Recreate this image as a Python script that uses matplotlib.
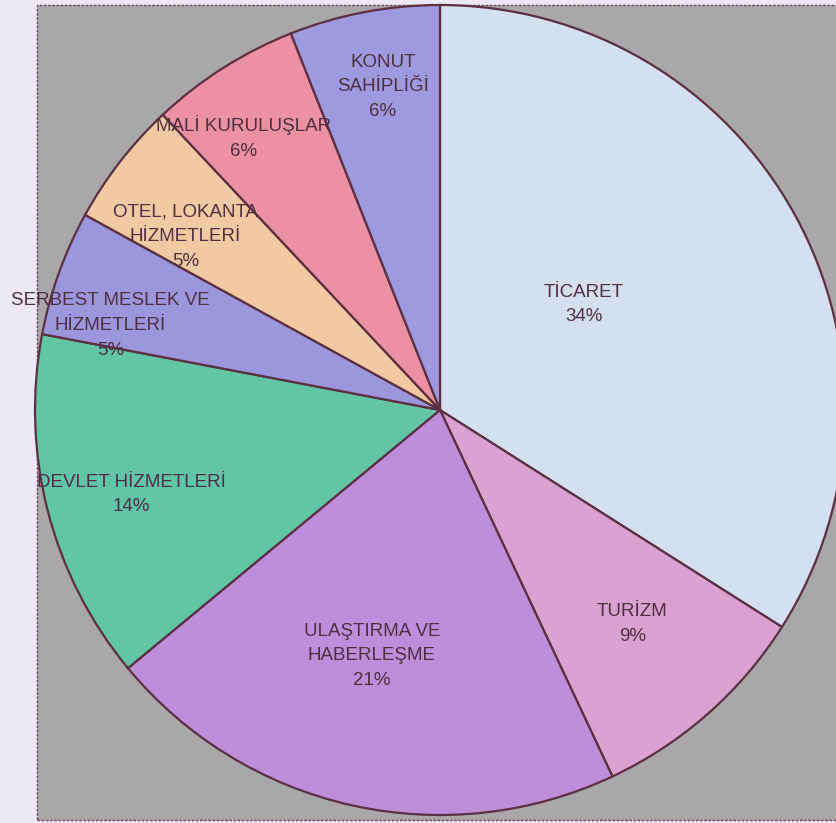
import numpy as np
import matplotlib as mpl
mpl.use("Agg")
import matplotlib.pyplot as plt
from matplotlib.patches import Rectangle

# --- data ---------------------------------------------------------------------
sectors = ["TİCARET", "TURİZM", "ULAŞTIRMA VE\nHABERLEŞME", "DEVLET HİZMETLERİ",
           "SERBEST MESLEK VE\nHİZMETLERİ", "OTEL, LOKANTA\nHİZMETLERİ",
           "MALİ KURULUŞLAR", "KONUT\nSAHİPLİĞİ"]
shares = [34, 9, 21, 14, 5, 5, 6, 6]
colors = ["#d4e0ef", "#d9a2d2", "#bf8edb", "#62c5a6",
          "#9c97dc", "#f1c9a2", "#ec91a4", "#9f9ae0"]

# label placement: fraction of radius and angular nudge (deg) per wedge
label_r = [0.44, 0.71, 0.63, 0.79, 0.84, 0.76, 0.83, 0.81]
label_dth = [7.5, 0.6, -2.9, 0.9, 5.4, 3.6, 3.4, -0.8]

plt.rcParams.update({
    "font.family": ["Liberation Sans", "DejaVu Sans"],
})

W, H = 837, 823
fig = plt.figure(figsize=(W / 100, H / 100), dpi=100, facecolor="#ece8f6")
ax = fig.add_axes([0, 0, 1, 1])

# grey panel with a thin dashed border
ax.add_patch(Rectangle((37, 3), 820, 815, facecolor="#a9a7a9",
                       edgecolor="#6a4a58", lw=1.0, ls=(0, (2, 1)), zorder=0))

cx, cy, R = 440, 413, 405
wedges, _ = ax.pie(shares, colors=colors, startangle=90, counterclock=False,
                   center=(cx, cy), radius=R, frame=True,
                   wedgeprops=dict(edgecolor="#5b3042", linewidth=1.6))
ax.set_xlim(0, W)
ax.set_ylim(0, H)
ax.axis("off")

for w, name, pct, r, dth in zip(wedges, sectors, shares, label_r, label_dth):
    mid = np.deg2rad(0.5 * (w.theta1 + w.theta2) + dth)
    x = cx + r * R * np.cos(mid)
    y = cy + r * R * np.sin(mid)
    ax.text(x, y, "{}\n{}%".format(name, pct), ha="center", va="center",
            fontsize=13.5, color="#4e2f40", linespacing=1.6, zorder=5)

fig.savefig("out.png", dpi=100, facecolor=fig.get_facecolor())
